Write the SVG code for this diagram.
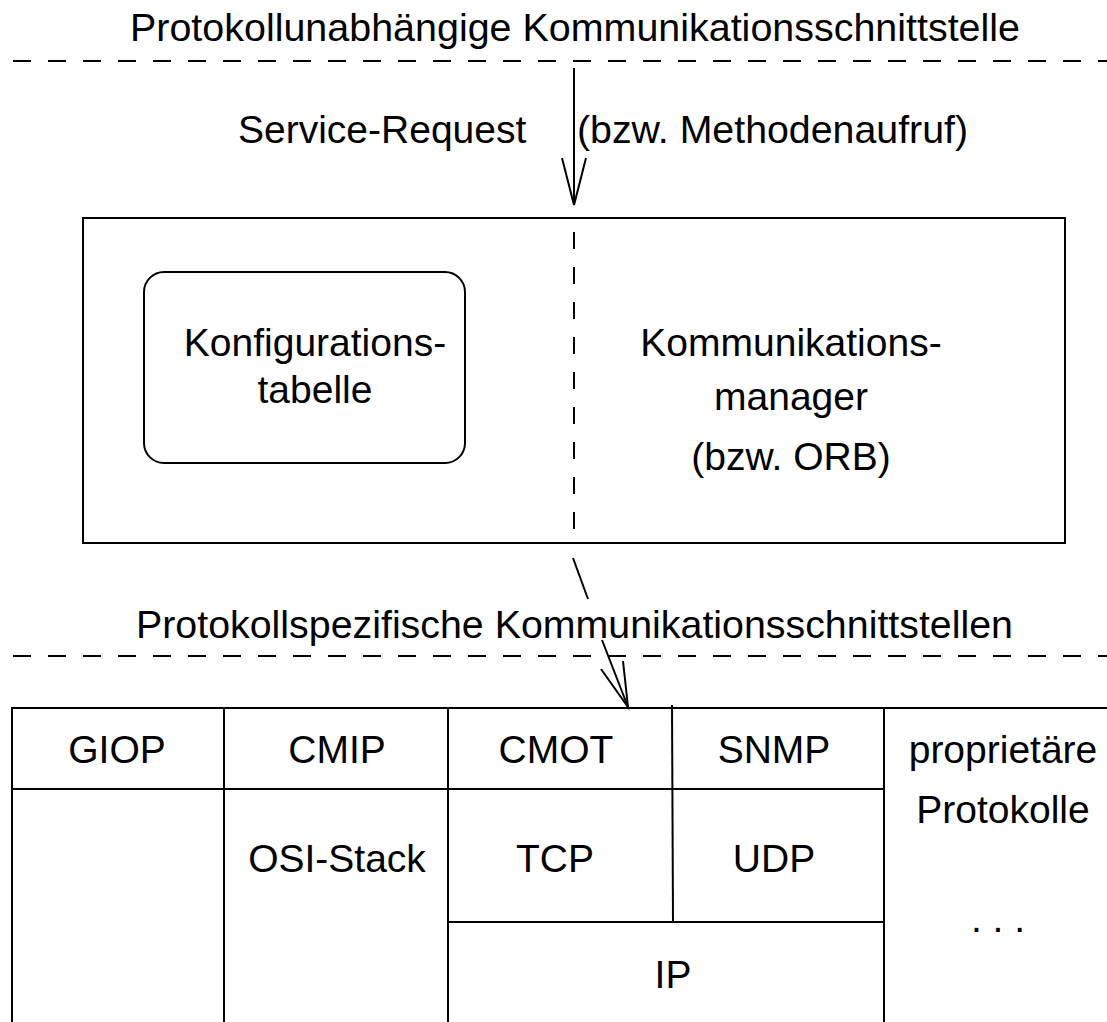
<svg xmlns="http://www.w3.org/2000/svg" width="1107" height="1022" viewBox="0 0 1107 1022">
<style>
  text { font-family: "Liberation Sans", Arial, sans-serif; font-size: 39px; fill: #000; }
  .c { text-anchor: middle; }
  .ln { stroke: #000; stroke-width: 2; fill: none; }
  .dash { stroke: #000; stroke-width: 2; fill: none; stroke-dasharray: 18 17; }
</style>
<rect width="1107" height="1022" fill="#fff"/>
<g id="interfaces">
  <text x="130" y="41" textLength="890" lengthAdjust="spacingAndGlyphs">Protokollunabhängige Kommunikationsschnittstelle</text>
  <line class="dash" x1="-22" y1="61" x2="1107" y2="61"/>
  <text x="136" y="638" textLength="877" lengthAdjust="spacingAndGlyphs">Protokollspezifische Kommunikationsschnittstellen</text>
  <line class="dash" x1="-22" y1="656" x2="1107" y2="656"/>
</g>
<g id="manager-box">
  <rect class="ln" x="83" y="218" width="982" height="325"/>
  <line class="dash" x1="574" y1="232" x2="574" y2="540" style="stroke-dasharray:17 18"/>
  <text class="c" x="791" y="356">Kommunikations-</text>
  <text class="c" x="791" y="410">manager</text>
  <text class="c" x="791" y="470">(bzw. ORB)</text>
</g>
<g id="config-table">
  <rect class="ln" x="144" y="272" width="321" height="191" rx="20" ry="20"/>
  <text class="c" x="315" y="356">Konfigurations-</text>
  <text class="c" x="315" y="403">tabelle</text>
</g>
<g id="protocol-stack">
  <line class="ln" x1="12" y1="708" x2="1107" y2="708"/>
  <line class="ln" x1="12" y1="789" x2="884" y2="789"/>
  <line class="ln" x1="448" y1="922" x2="884" y2="922"/>
  <line class="ln" x1="12" y1="707" x2="12" y2="1022"/>
  <line class="ln" x1="224" y1="708" x2="224" y2="1022"/>
  <line class="ln" x1="448" y1="708" x2="448" y2="1022"/>
  <line class="ln" x1="672" y1="705" x2="673" y2="922"/>
  <line class="ln" x1="884" y1="708" x2="884" y2="1022"/>
  <text class="c" x="117" y="763">GIOP</text>
  <text class="c" x="337" y="763">CMIP</text>
  <text class="c" x="337" y="872">OSI-Stack</text>
  <text class="c" x="556" y="763">CMOT</text>
  <text class="c" x="774" y="763">SNMP</text>
  <text class="c" x="555" y="872">TCP</text>
  <text class="c" x="774" y="872">UDP</text>
  <text class="c" x="673" y="988">IP</text>
  <text class="c" x="1003" y="763">proprietäre</text>
  <text class="c" x="1003" y="823">Protokolle</text>
  <text class="c" x="998" y="932">. . .</text>
</g>
<g id="connectors">
  <line class="ln" x1="574" y1="68" x2="574" y2="205"/>
  <polyline class="ln" points="562,158 574,205 586,158"/>
  <text x="238" y="143">Service-Request</text>
  <text x="577" y="143" textLength="391" lengthAdjust="spacingAndGlyphs">(bzw. Methodenaufruf)</text>
  <line class="ln" x1="573" y1="558" x2="588" y2="599"/>
  <line class="ln" x1="602" y1="640" x2="628" y2="707"/>
  <polyline class="ln" points="601,669 628,707 623,661"/>
</g>
</svg>
